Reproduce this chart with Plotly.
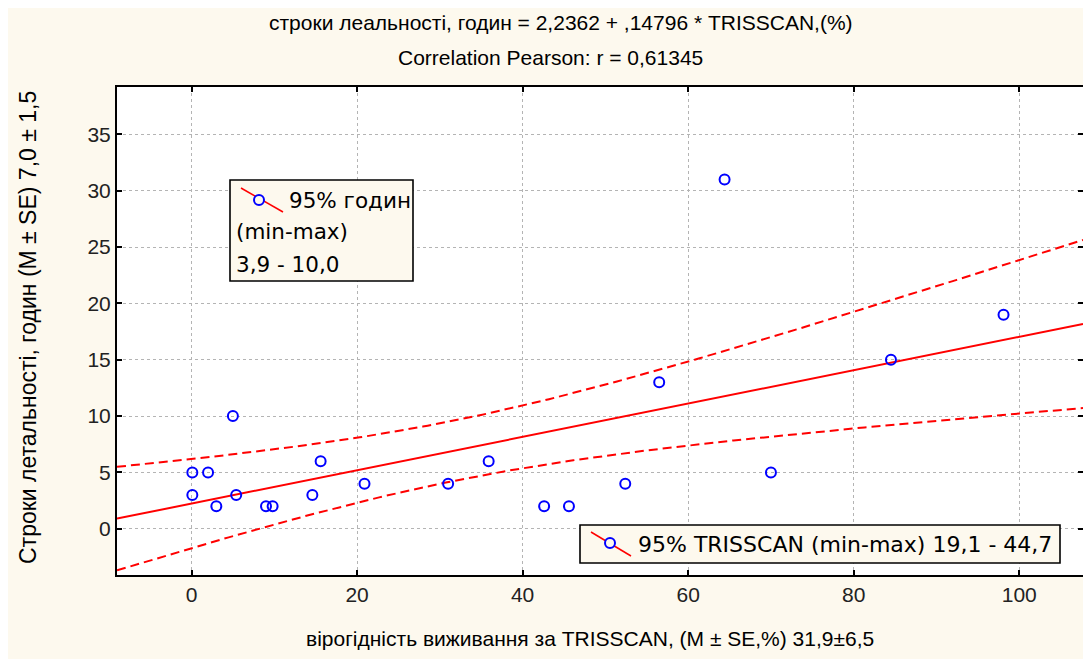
import numpy as np
import plotly.graph_objects as go

# ---- data ----
trisscan = [0.1, 2.0, 0.1, 3.0, 5.4, 5.0, 9.0, 9.8, 14.6, 15.6, 20.9,
            31.0, 35.9, 42.6, 45.6, 52.4, 56.5, 64.4, 70.0, 84.5, 98.1]
hours = [5, 5, 3, 2, 3, 10, 2, 2, 3, 6, 4,
         4, 6, 2, 2, 4, 13, 31, 5, 15, 19]
intercept = 2.2362
slope = 0.14796
x_range = [-9.0, 107.7]
y_range = [-4.1, 39.2]
x_ticks = [0, 20, 40, 60, 80, 100]
y_ticks = [0, 5, 10, 15, 20, 25, 30, 35]

title1 = "строки леальності, годин = 2,2362 + ,14796 * TRISSCAN,(%)"
title2 = "Correlation Pearson: r = 0,61345"
x_title = "вірогідність виживання за TRISSCAN, (M ± SE,%) 31,9±6,5"
y_title = "Строки летальності, годин (M ± SE) 7,0 ± 1,5"
legend1 = ["95% годин", "(min-max)", "3,9 - 10,0"]
legend2 = "95% TRISSCAN (min-max) 19,1 - 44,7"

# ---- regression confidence band ----
xa = np.array(trisscan)
ya = np.array(hours)
n = len(xa)
resid = ya - (intercept + slope * xa)
s = np.sqrt(np.sum(resid ** 2) / (n - 2))
sxx = np.sum((xa - xa.mean()) ** 2)
t = 2.093
xl = np.linspace(x_range[0], x_range[1], 200)
yl = intercept + slope * xl
hw = t * s * np.sqrt(1.0 / n + (xl - xa.mean()) ** 2 / sxx)

RED = "#ff0000"
BLUE = "#0000ff"
CREAM = "#fdf9ee"
FONT = "Liberation Sans, Arial, sans-serif"
FONT_LEG = "DejaVu Sans, Verdana, sans-serif"

fig = go.Figure()
fig.add_trace(go.Scatter(x=xl, y=yl, mode="lines", line=dict(color=RED, width=2),
                         hoverinfo="skip", showlegend=False))
fig.add_trace(go.Scatter(x=xl, y=yl + hw, mode="lines",
                         line=dict(color=RED, width=2, dash="9px,5px"),
                         hoverinfo="skip", showlegend=False))
fig.add_trace(go.Scatter(x=xl, y=yl - hw, mode="lines",
                         line=dict(color=RED, width=2, dash="9px,5px"),
                         hoverinfo="skip", showlegend=False))
fig.add_trace(go.Scatter(x=trisscan, y=hours, mode="markers",
                         marker=dict(symbol="circle-open", size=10, color=BLUE,
                                     line=dict(width=2, color=BLUE)),
                         showlegend=False))

# screen-pixel helpers (page body has an 8px offset)
OFF = 8
L, R, T, B = 117 - OFF, 1083 - OFF, 87 - OFF, 575 - OFF
W, H = R - L, B - T
FW, FH = 1091, 659


def px(p):
    return (p - OFF - L) / W


def py(p):
    return (B - (p - OFF)) / H


shapes = [
    # legend box 1
    dict(type="rect", xref="paper", yref="paper", x0=px(230), x1=px(413), y0=py(281), y1=py(180),
         fillcolor=CREAM, line=dict(color="black", width=1.6)),
    dict(type="line", xref="paper", yref="paper", x0=px(241), x1=px(283), y0=py(188), y1=py(212),
         line=dict(color=RED, width=1.5)),
    dict(type="circle", xref="paper", yref="paper", x0=px(254), x1=px(264), y0=py(205), y1=py(195),
         fillcolor=CREAM, line=dict(color=BLUE, width=2)),
    # legend box 2
    dict(type="rect", xref="paper", yref="paper", x0=px(580), x1=px(1060), y0=py(563), y1=py(525),
         fillcolor=CREAM, line=dict(color="black", width=1.6)),
    dict(type="line", xref="paper", yref="paper", x0=px(591), x1=px(631), y0=py(532), y1=py(556),
         line=dict(color=RED, width=1.5)),
    dict(type="circle", xref="paper", yref="paper", x0=px(605), x1=px(615), y0=py(548), y1=py(538),
         fillcolor=CREAM, line=dict(color=BLUE, width=2)),
]

annotations = [
    dict(text=title1, xref="paper", yref="paper", x=px(561), y=py(22), showarrow=False,
         font=dict(family=FONT, size=21, color="black"), xanchor="center", yanchor="middle"),
    dict(text=title2, xref="paper", yref="paper", x=px(550), y=py(57), showarrow=False,
         font=dict(family=FONT, size=21, color="black"), xanchor="center", yanchor="middle"),
    dict(text=x_title, xref="paper", yref="paper", x=px(590), y=py(638), showarrow=False,
         font=dict(family=FONT, size=21, color="black"), xanchor="center", yanchor="middle"),
    dict(text=y_title, xref="paper", yref="paper", x=px(28), y=py(328), showarrow=False,
         textangle=-90, font=dict(family=FONT, size=23, color="black"),
         xanchor="center", yanchor="middle"),
    dict(text=legend1[0], xref="paper", yref="paper", x=px(287), y=py(200), showarrow=False,
         font=dict(family=FONT_LEG, size=21.5, color="black"), xanchor="left", yanchor="middle"),
    dict(text=legend1[1], xref="paper", yref="paper", x=px(234), y=py(232), showarrow=False,
         font=dict(family=FONT_LEG, size=21.5, color="black"), xanchor="left", yanchor="middle"),
    dict(text=legend1[2], xref="paper", yref="paper", x=px(234), y=py(264), showarrow=False,
         font=dict(family=FONT_LEG, size=21.5, color="black"), xanchor="left", yanchor="middle"),
    dict(text=legend2, xref="paper", yref="paper", x=px(636), y=py(544), showarrow=False,
         font=dict(family=FONT_LEG, size=22, color="black"), xanchor="left", yanchor="middle"),
]

axis_common = dict(showline=True, linecolor="black", linewidth=2, mirror="ticks",
                   ticks="inside", ticklen=5, tickwidth=2, tickcolor="black",
                   showgrid=True, gridcolor="#b4b4b4", griddash="dot", gridwidth=1,
                   zeroline=False, tickfont=dict(family=FONT, size=21, color="#222222"))

fig.update_layout(
    width=FW, height=FH, autosize=False,
    margin=dict(l=L, r=FW - R, t=T, b=FH - B),
    paper_bgcolor=CREAM, plot_bgcolor="white",
    xaxis=dict(range=x_range, tickvals=x_ticks, ticktext=[str(v) for v in x_ticks],
               **axis_common),
    yaxis=dict(range=y_range, tickvals=y_ticks, ticktext=[str(v) for v in y_ticks],
               **axis_common),
    shapes=shapes, annotations=annotations, showlegend=False,
)

fig.write_html("out.html")
